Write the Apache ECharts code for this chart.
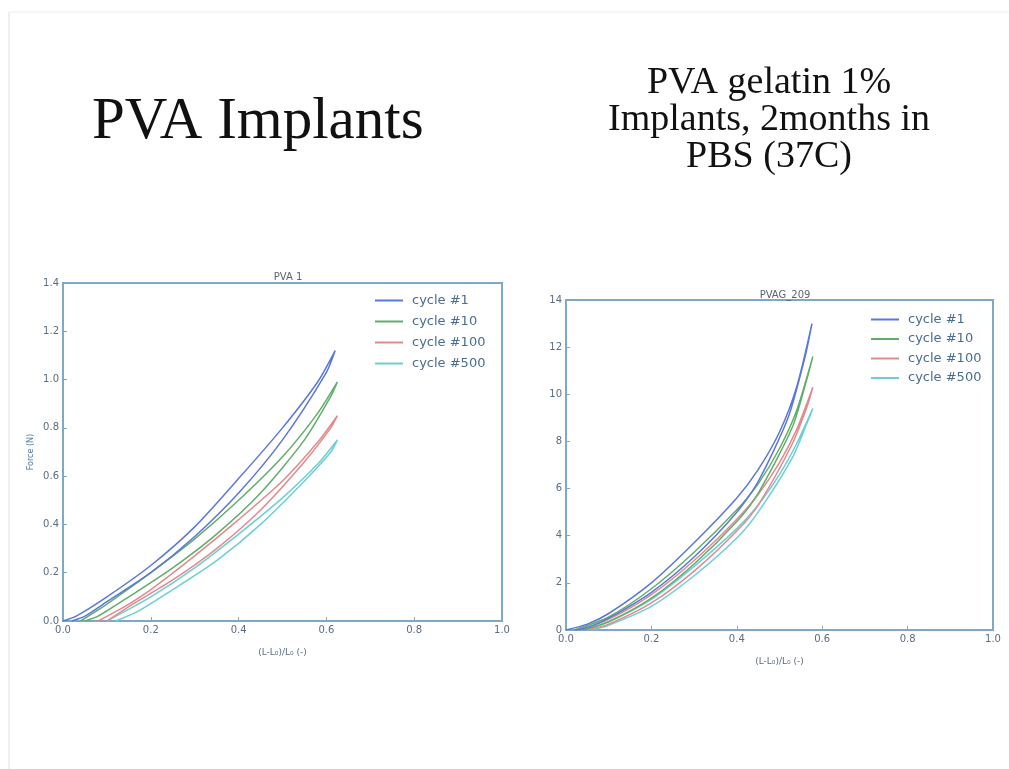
<!DOCTYPE html>
<html>
<head>
<meta charset="utf-8">
<title>PVA Implants</title>
<script src="https://cdn.jsdelivr.net/npm/echarts@6/dist/echarts.min.js"></script>
<style>
  html, body { margin: 0; padding: 0; background: #ffffff; }
  #chart { width: 1009px; height: 769px; }
</style>
</head>
<body>
<div id="chart"></div>
<script>
// Legend names shared by both panels
const cycleNames = ['cycle #1', 'cycle #10', 'cycle #100', 'cycle #500'];

// Panel titles and axis texts
const leftPanelTitle = 'PVA 1';
const rightPanelTitle = 'PVAG_209';
const strainLabel = '(L-L\u2080)/L\u2080 (-)';
const forceLabel = 'Force (N)';

// PVA 1: loading then unloading loops, [strain, force N]
const pva1Cycle1 = [[0,0],[0.03,0.02],[0.1,0.1],[0.2,0.23],[0.3,0.39],[0.4,0.59],[0.5,0.8],[0.58,0.99],[0.62,1.12],
  [0.6,1.03],[0.5,0.75],[0.4,0.53],[0.3,0.35],[0.2,0.2],[0.1,0.08],[0.05,0.02],[0.02,0]];
const pva1Cycle10 = [[0.04,0],[0.1,0.07],[0.2,0.2],[0.3,0.34],[0.4,0.5],[0.5,0.68],[0.58,0.86],[0.625,0.99],
  [0.61,0.93],[0.55,0.75],[0.45,0.53],[0.35,0.36],[0.25,0.22],[0.15,0.1],[0.08,0.02],[0.05,0]];
const pva1Cycle100 = [[0.08,0],[0.15,0.07],[0.2,0.13],[0.3,0.27],[0.4,0.42],[0.5,0.58],[0.58,0.74],[0.625,0.85],
  [0.61,0.8],[0.55,0.66],[0.45,0.46],[0.35,0.3],[0.25,0.17],[0.15,0.06],[0.1,0]];
const pva1Cycle500 = [[0.1,0],[0.2,0.1],[0.3,0.22],[0.4,0.36],[0.5,0.51],[0.58,0.65],[0.625,0.75],
  [0.61,0.7],[0.55,0.58],[0.45,0.4],[0.35,0.25],[0.25,0.13],[0.17,0.04],[0.12,0]];

// PVAG_209: loading then unloading loops, [strain, force N]
const pvagCycle1 = [[0,0],[0.05,0.25],[0.1,0.7],[0.2,2.0],[0.3,3.7],[0.4,5.6],[0.45,6.8],[0.5,8.4],[0.54,10.3],[0.576,13.0],
  [0.56,11.6],[0.52,9.0],[0.45,6.3],[0.4,5.0],[0.3,3.1],[0.2,1.6],[0.1,0.5],[0.05,0.1],[0.02,0]];
const pvagCycle10 = [[0.02,0],[0.1,0.55],[0.2,1.75],[0.3,3.3],[0.4,5.1],[0.45,6.2],[0.5,7.7],[0.54,9.3],[0.578,11.6],
  [0.565,10.7],[0.53,8.6],[0.45,5.8],[0.4,4.6],[0.3,2.8],[0.2,1.35],[0.1,0.35],[0.04,0]];
const pvagCycle100 = [[0.03,0],[0.1,0.45],[0.2,1.5],[0.3,2.95],[0.4,4.7],[0.45,5.75],[0.5,7.1],[0.54,8.5],[0.578,10.3],
  [0.565,9.5],[0.53,7.9],[0.45,5.3],[0.4,4.2],[0.3,2.5],[0.2,1.15],[0.1,0.25],[0.05,0]];
const pvagCycle500 = [[0.04,0],[0.1,0.35],[0.2,1.3],[0.3,2.7],[0.4,4.3],[0.45,5.3],[0.5,6.6],[0.54,7.9],[0.578,9.4],
  [0.565,8.8],[0.53,7.3],[0.45,5.0],[0.4,3.9],[0.3,2.3],[0.2,1.0],[0.1,0.2],[0.06,0]];

const cycleColors = ['#5b78d8', '#62ad6a', '#e08a8e', '#6ccfd6'];
const frameColor = '#7fa8c4';
const tickColor = '#5a6c7e';

const leftLoops = [pva1Cycle1, pva1Cycle10, pva1Cycle100, pva1Cycle500];
const rightLoops = [pvagCycle1, pvagCycle10, pvagCycle100, pvagCycle500];

function axisX(gridIndex, nameGap) {
  return {
    type: 'value', gridIndex: gridIndex, min: 0, max: 1, interval: 0.2,
    name: strainLabel, nameLocation: 'middle', nameGap: nameGap,
    nameTextStyle: { fontSize: 9, color: tickColor, fontFamily: 'DejaVu Sans' },
    axisLine: { show: true, lineStyle: { color: frameColor, width: 2 } },
    axisTick: { show: true, inside: true, length: 4, lineStyle: { color: frameColor } },
    axisLabel: { fontSize: 10, color: tickColor, fontFamily: 'DejaVu Sans', margin: 4,
      formatter: v => v.toFixed(1) },
    splitLine: { show: false }
  };
}

function loopSeries(loops, xIdx, yIdx) {
  return loops.map((d, i) => ({
    type: 'line', name: cycleNames[i], xAxisIndex: xIdx, yAxisIndex: yIdx,
    data: d, showSymbol: false, smooth: 0.25, z: 10 - i,
    lineStyle: { color: cycleColors[i], width: 1.5 },
    itemStyle: { color: cycleColors[i] }
  }));
}

const legendText = { fontSize: 13, color: '#4a6c92', fontFamily: 'DejaVu Sans', padding: [0, 0, 0, 4] };

const chart = echarts.init(document.getElementById('chart'), null, { renderer: 'canvas' });

chart.setOption({
  animation: false,
  backgroundColor: '#ffffff',
  color: cycleColors,
  title: [
    { text: leftPanelTitle, left: 283, top: 267, textAlign: 'center',
      textStyle: { fontSize: 10, fontWeight: 'normal', color: '#5a6470', fontFamily: 'DejaVu Sans' } },
    { text: rightPanelTitle, left: 780, top: 285, textAlign: 'center',
      textStyle: { fontSize: 10, fontWeight: 'normal', color: '#5a6470', fontFamily: 'DejaVu Sans' } }
  ],
  grid: [
    { left: 63, right: 507, top: 283, bottom: 148, show: true, borderColor: frameColor, borderWidth: 2 },
    { left: 566, right: 16, top: 300, bottom: 139, show: true, borderColor: frameColor, borderWidth: 2 }
  ],
  xAxis: [axisX(0, 27), axisX(1, 27)],
  yAxis: [
    { type: 'value', gridIndex: 0, min: 0, max: 1.4, interval: 0.2,
      name: forceLabel, nameLocation: 'middle', nameGap: 28, nameRotate: 90,
      nameTextStyle: { fontSize: 8, color: '#4f78a8', fontFamily: 'DejaVu Sans' },
      axisLine: { show: true, lineStyle: { color: frameColor, width: 2 } },
      axisTick: { show: true, inside: true, length: 4, lineStyle: { color: frameColor } },
      axisLabel: { fontSize: 10, color: tickColor, fontFamily: 'DejaVu Sans', margin: 4,
        formatter: v => v.toFixed(1) },
      splitLine: { show: false } },
    { type: 'value', gridIndex: 1, min: 0, max: 14, interval: 2,
      axisLine: { show: true, lineStyle: { color: frameColor, width: 2 } },
      axisTick: { show: true, inside: true, length: 4, lineStyle: { color: frameColor } },
      axisLabel: { fontSize: 10, color: tickColor, fontFamily: 'DejaVu Sans', margin: 4 },
      splitLine: { show: false } }
  ],
  legend: [
    { data: cycleNames, orient: 'vertical', left: 370, top: 289, itemGap: 8,
      icon: 'rect', itemWidth: 28, itemHeight: 2, selectedMode: false, textStyle: legendText },
    { data: cycleNames, orient: 'vertical', left: 866, top: 308, itemGap: 6.5,
      icon: 'rect', itemWidth: 28, itemHeight: 2, selectedMode: false, textStyle: legendText }
  ],
  graphic: [
    { type: 'line', shape: { x1: 9, y1: 12, x2: 9, y2: 769 }, style: { stroke: '#eceff3', lineWidth: 2 } },
    { type: 'line', shape: { x1: 9, y1: 12, x2: 1009, y2: 12 }, style: { stroke: '#f1f3f6', lineWidth: 1.5 } },
    { type: 'text', left: 92, top: 93,
      style: { text: 'PVA Implants', fontSize: 59, fontFamily: 'Liberation Serif', fill: '#111111' } },
    { type: 'text', x: 769, y: 65,
      style: { text: 'PVA gelatin 1%\nImplants, 2months in\nPBS (37C)', fontSize: 38, lineHeight: 37,
        align: 'center', fontFamily: 'Liberation Serif', fill: '#111111' } }
  ],
  series: [].concat(loopSeries(leftLoops, 0, 0), loopSeries(rightLoops, 1, 1))
});
</script>
</body>
</html>
